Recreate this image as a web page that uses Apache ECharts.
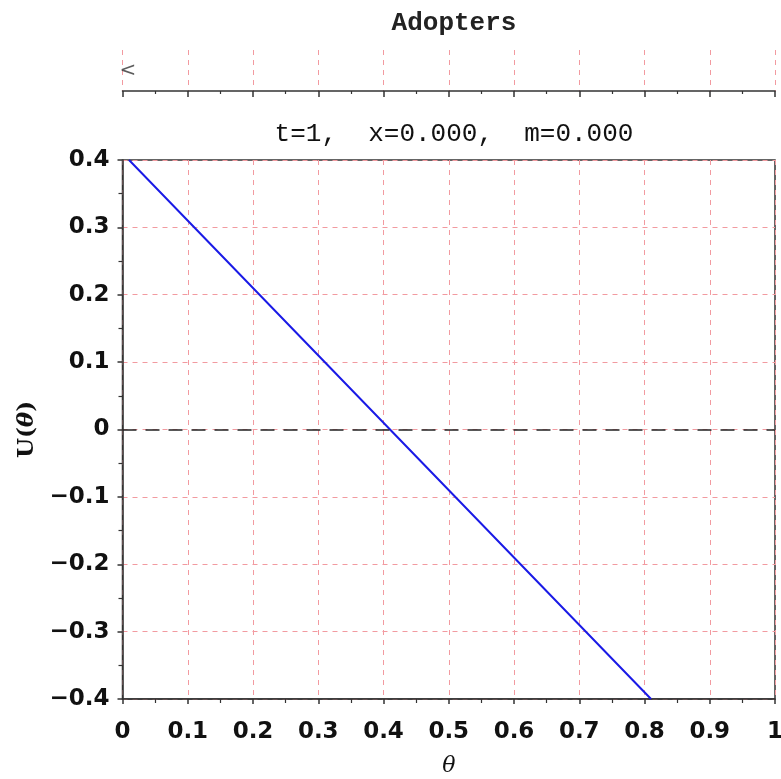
<!DOCTYPE html>
<html>
<head>
<meta charset="utf-8">
<script src="https://cdn.jsdelivr.net/npm/echarts@6/dist/echarts.min.js"></script>
<style>html,body{margin:0;background:#fff}#chart{width:781px;height:779px}</style>
</head>
<body>
<div id="chart"></div>
<script>
// values
const theta = [0.01, 0.41, 0.81]
const utility = [0.4, 0, -0.4]
const zeroLine = 0
const marker = [[0, 0.5]]
const titleText = 'Adopters'
const subtitleText = 't=1,  x=0.000,  m=0.000'

const gridPink = '#f29aa0'
const axisDark = '#333'
const labelFont = {fontFamily: 'DejaVu Sans', fontWeight: 'bold', fontSize: 23, color: '#111'}

function fmt(v){
    if (Math.abs(v) < 1e-9) return '0'
    if (Math.abs(v - 1) < 1e-9) return '1'
    return v.toFixed(1).replace('-', '\u2212')
}

const chart = echarts.init(document.getElementById('chart'))
const option = {
    animation: false,
    title: [
        {text: titleText, left: 449, top: 5, textAlign: 'center',
         textStyle: {fontFamily: 'Liberation Mono', fontSize: 26, fontWeight: 'bold', color: '#222'}},
        {text: subtitleText, left: 449, top: 116, textAlign: 'center',
         textStyle: {fontFamily: 'Liberation Mono', fontSize: 26, fontWeight: 'normal', color: '#111'}}
    ],
    grid: [
        {left: 122.5, right: 6, top: 160, height: 539, outerBoundsMode: 'none', containLabel: false,
         show: true, borderColor: axisDark, borderWidth: 1.5},
        {left: 122.5, right: 6, top: 50, height: 41, outerBoundsMode: 'none', containLabel: false}
    ],
    xAxis: [
        {gridIndex: 0, type: 'value', min: 0, max: 1, interval: 0.1,
         name: 'θ', nameLocation: 'middle', nameGap: 56,
         nameTextStyle: {fontFamily: 'DejaVu Serif', fontStyle: 'italic', fontSize: 22, color: '#111'},
         axisLine: {onZero: false, lineStyle: {color: axisDark, width: 1.5}},
         axisTick: {show: true, length: 5, lineStyle: {color: axisDark, width: 1.5}},
         minorTick: {show: true, splitNumber: 2, length: 4, lineStyle: {color: axisDark, width: 1.2}},
         axisLabel: Object.assign({margin: 22, formatter: fmt}, labelFont),
         splitLine: {show: true, lineStyle: {color: gridPink, type: [5, 5], width: 1}}},
        {gridIndex: 1, type: 'value', min: 0, max: 1, interval: 0.1,
         axisLine: {onZero: false, lineStyle: {color: axisDark, width: 1.5}},
         axisTick: {show: true, length: 6, lineStyle: {color: axisDark, width: 1.5}},
         minorTick: {show: true, splitNumber: 2, length: 3, lineStyle: {color: axisDark, width: 1.2}},
         axisLabel: {show: false},
         splitLine: {show: true, lineStyle: {color: gridPink, type: [5, 5], width: 1}}}
    ],
    yAxis: [
        {gridIndex: 0, type: 'value', min: -0.4, max: 0.4, interval: 0.1,
         name: '{u|U(}{t|θ}{u|)}', nameLocation: 'middle', nameGap: 83, nameRotate: 90,
         nameTextStyle: {rich: {
             u: {fontFamily: 'DejaVu Serif', fontWeight: 'bold', fontSize: 23, color: '#111'},
             t: {fontFamily: 'DejaVu Serif', fontStyle: 'italic', fontWeight: 'bold', fontSize: 23, color: '#111'}}},
         axisLine: {onZero: false, lineStyle: {color: axisDark, width: 1.5}},
         axisTick: {show: true, length: 5, lineStyle: {color: axisDark, width: 1.5}},
         minorTick: {show: true, splitNumber: 2, length: 4, lineStyle: {color: axisDark, width: 1.2}},
         axisLabel: Object.assign({margin: 13, formatter: fmt}, labelFont),
         splitLine: {show: true, lineStyle: {color: gridPink, type: [5, 5], width: 1}}},
        {gridIndex: 1, type: 'value', min: 0, max: 1, show: false, splitLine: {show: false}}
    ],
    series: [
        {type: 'line', xAxisIndex: 0, yAxisIndex: 0, symbol: 'none',
         data: theta.map((t, i) => [t, utility[i]]),
         lineStyle: {color: '#1a1ae6', width: 2},
         markLine: {silent: true, symbol: 'none', label: {show: false},
                    lineStyle: {color: '#222', type: [14, 9], width: 1.5},
                    data: [{yAxis: zeroLine}]}},
        {type: 'scatter', xAxisIndex: 1, yAxisIndex: 1, symbolSize: 0, data: marker,
         label: {show: true, position: 'right', distance: -3, formatter: '<',
                 fontFamily: 'DejaVu Sans', fontSize: 20, color: '#333'}}
    ]
}
chart.setOption(option)
</script>
</body>
</html>
